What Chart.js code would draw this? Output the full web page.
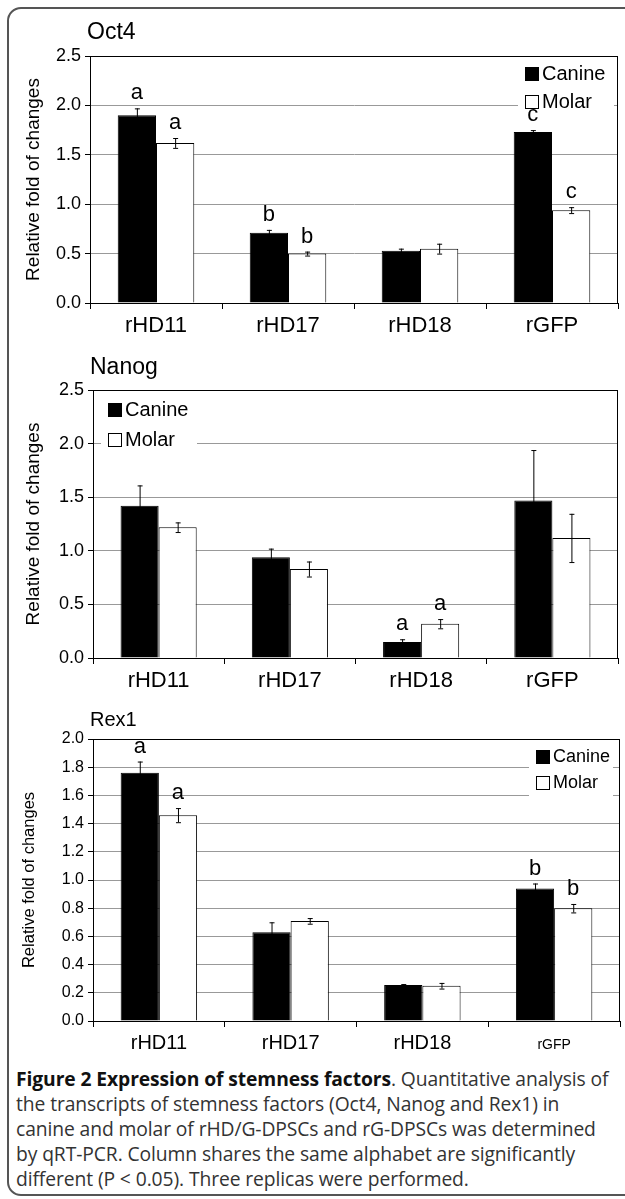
<!DOCTYPE html>
<html>
<head>
<meta charset="utf-8">
<script src="https://cdn.jsdelivr.net/npm/chart.js@4.4.0/dist/chart.umd.min.js"></script>
<style>
  body { margin: 0; background: #fff; width: 625px; height: 1199px; overflow: hidden; position: relative; }
  #frame { position: absolute; left: 7px; top: 7px; width: 660px; height: 1189px; border: 2px solid #555; border-radius: 14px; box-sizing: border-box; }
  canvas { position: absolute; left: 0; }
  #caption { position: absolute; left: 16px; top: 1066px; width: 612px; font-family: "Open Sans"; font-size: 19.3px; line-height: 25px; color: #333; white-space: nowrap; letter-spacing: -0.1px; }
  #caption b { color: #111; }
</style>
</head>
<body>
<div id="frame"></div>
<canvas id="oct4" width="625" height="345" style="top:0"></canvas>
<canvas id="nanog" width="625" height="355" style="top:345px"></canvas>
<canvas id="rex1" width="625" height="355" style="top:700px"></canvas>
<div id="caption">
  <b>Figure 2 Expression of stemness factors</b>. Quantitative analysis of<br>
  the transcripts of stemness factors (Oct4, Nanog and Rex1) in<br>
  canine and molar of rHD/G-DPSCs and rG-DPSCs was determined<br>
  by qRT-PCR. Column shares the same alphabet are significantly<br>
  different (P &lt; 0.05). Three replicas were performed.
</div>
<script>
// data
const categories = ['rHD11', 'rHD17', 'rHD18', 'rGFP'];

const oct4Canine = [1.90, 0.71, 0.53, 1.73];
const oct4CanineErr = [0.07, 0.03, 0.02, 0.02];
const oct4Molar = [1.62, 0.50, 0.55, 0.94];
const oct4MolarErr = [0.05, 0.02, 0.05, 0.03];
const oct4CanineLetters = ['a', 'b', '', 'c'];
const oct4MolarLetters = ['a', 'b', '', 'c'];

const nanogCanine = [1.42, 0.94, 0.15, 1.47];
const nanogCanineErr = [0.19, 0.08, 0.025, 0.47];
const nanogMolar = [1.22, 0.83, 0.32, 1.12];
const nanogMolarErr = [0.045, 0.07, 0.043, 0.225];
const nanogCanineLetters = ['', '', 'a', ''];
const nanogMolarLetters = ['', '', 'a', ''];

const rex1Canine = [1.76, 0.63, 0.255, 0.94];
const rex1CanineErr = [0.08, 0.07, 0.007, 0.035];
const rex1Molar = [1.46, 0.71, 0.25, 0.80];
const rex1MolarErr = [0.05, 0.02, 0.02, 0.03];
const rex1CanineLetters = ['a', '', '', 'b'];
const rex1MolarLetters = ['a', '', '', 'b'];

const FONT = '"Liberation Sans", Arial, sans-serif';

//error bars + letters above bars
const barExtras = {
  id: 'barExtras',
  afterDatasetsDraw(chart) {
    const ctx = chart.ctx;
    const y = chart.scales.y;
    chart.data.datasets.forEach((ds, i) => {
      chart.getDatasetMeta(i).data.forEach((bar, j) => {
        const v = ds.data[j], e = ds.err[j];
        const top = y.getPixelForValue(v + e), bot = y.getPixelForValue(v - e);
        ctx.save();
        ctx.strokeStyle = '#000';
        ctx.lineWidth = 1;
        ctx.beginPath();
        ctx.moveTo(bar.x + 0.5, top); ctx.lineTo(bar.x + 0.5, bot);
        ctx.moveTo(bar.x - 2, top + 0.5); ctx.lineTo(bar.x + 3, top + 0.5);
        ctx.moveTo(bar.x - 2, bot + 0.5); ctx.lineTo(bar.x + 3, bot + 0.5);
        ctx.stroke();
        if (ds.letters[j]) {
          ctx.fillStyle = '#000';
          ctx.font = chart.options.plugins.barExtras.letterSize + 'px ' + FONT;
          ctx.textAlign = 'center';
          ctx.textBaseline = 'bottom';
          ctx.fillText(ds.letters[j], bar.x, top - 4);
        }
        ctx.restore();
      });
    });
  }
};

//legend inside the plot (under the bars and letters), box round plot, title
const panelDeco = {
  id: 'panelDeco',
  beforeDatasetsDraw(chart) {
    const o = chart.options.plugins.panelDeco;
    const a = chart.chartArea;
    const ctx = chart.ctx;
    const lx = o.legendLeft ? a.left + o.legendX : a.right - o.legendX;
    const ly = a.top + o.legendY;
    ctx.save();
    ctx.fillStyle = '#fff';
    ctx.fillRect(lx - 7, ly - 6, o.legendW, 2 * o.legendRow + 4);
    ctx.font = o.legendSize + 'px ' + FONT;
    ctx.textBaseline = 'middle';
    ctx.textAlign = 'left';
    chart.data.datasets.forEach((ds, i) => {
      const yy = ly + i * o.legendRow;
      ctx.fillStyle = ds.backgroundColor;
      ctx.fillRect(lx, yy, 14, 14);
      ctx.strokeStyle = '#000';
      ctx.strokeRect(lx + 0.5, yy + 0.5, 13, 13);
      ctx.fillStyle = '#000';
      ctx.fillText(ds.label, lx + 17, yy + 7);
    });
    ctx.restore();
  },
  afterDraw(chart) {
    const o = chart.options.plugins.panelDeco;
    const a = chart.chartArea;
    const ctx = chart.ctx;
    ctx.save();
    ctx.strokeStyle = '#000';
    ctx.lineWidth = 1;
    ctx.strokeRect(a.left + 0.5, a.top + 0.5, a.right - a.left - 1, a.bottom - a.top);
    ctx.fillStyle = '#000';
    ctx.font = o.titleSize + 'px ' + FONT;
    ctx.textBaseline = 'middle';
    ctx.textAlign = 'left';
    ctx.fillText(o.title, a.left - 3, a.top - o.titleGap);
    ctx.restore();
  }
};

function makePanel(id, p) {
  return new Chart(document.getElementById(id), {
    type: 'bar',
    data: {
      labels: categories,
      datasets: [
        { label: 'Canine', data: p.canine, err: p.canineErr, letters: p.canineLetters,
          backgroundColor: '#000', borderColor: '#000', borderWidth: 1 },
        { label: 'Molar', data: p.molar, err: p.molarErr, letters: p.molarLetters,
          backgroundColor: '#fff', borderColor: '#000', borderWidth: 1 }
      ]
    },
    plugins: [barExtras, panelDeco],
    options: {
      responsive: false,
      animation: false,
      layout: { padding: { top: p.top, right: 625 - p.right, left: 0, bottom: 0 } },
      datasets: { bar: { categoryPercentage: 0.58, barPercentage: 1 } },
      plugins: {
        legend: { display: false },
        tooltip: { enabled: false },
        barExtras: { letterSize: p.letterSize },
        panelDeco: p.deco
      },
      scales: {
        x: {
          grid: { display: true, offset: true, drawOnChartArea: false, color: '#000', tickLength: 6 },
          border: { color: '#000' },
          ticks: { color: '#000', padding: 4, font: p.xFont },
          afterFit(s) { s.height = p.height - p.bottom; }
        },
        y: {
          min: 0, max: p.max,
          ticks: { stepSize: p.step, color: '#000', padding: 4, font: { family: FONT, size: p.tickSize },
                   callback: v => v.toFixed(1) },
          grid: { color: '#999', tickColor: '#000', tickLength: 5 },
          border: { color: '#000' },
          title: { display: true, text: 'Relative fold of changes', color: '#000',
                   font: { family: FONT, size: p.yTitleSize }, padding: { top: p.yTitlePad } },
          afterFit(s) { s.width = p.left; }
        }
      }
    }
  });
}

makePanel('oct4', {
  canine: oct4Canine, canineErr: oct4CanineErr, canineLetters: oct4CanineLetters,
  molar: oct4Molar, molarErr: oct4MolarErr, molarLetters: oct4MolarLetters,
  height: 345, top: 56, bottom: 303, left: 90, right: 618,
  max: 2.5, step: 0.5, tickSize: 18, yTitleSize: 19, yTitlePad: 22, letterSize: 22,
  xFont: { family: FONT, size: 22 },
  deco: { title: 'Oct4', titleSize: 23, titleGap: 23, legendLeft: false, legendX: 93, legendY: 11,
          legendRow: 28, legendSize: 20, legendW: 96 }
});

makePanel('nanog', {
  canine: nanogCanine, canineErr: nanogCanineErr, canineLetters: nanogCanineLetters,
  molar: nanogMolar, molarErr: nanogMolarErr, molarLetters: nanogMolarLetters,
  height: 355, top: 45, bottom: 313, left: 93, right: 618,
  max: 2.5, step: 0.5, tickSize: 18, yTitleSize: 19, yTitlePad: 22, letterSize: 22,
  xFont: { family: FONT, size: 22 },
  deco: { title: 'Nanog', titleSize: 23, titleGap: 22, legendLeft: true, legendX: 15, legendY: 13,
          legendRow: 30, legendSize: 20, legendW: 96 }
});

makePanel('rex1', {
  canine: rex1Canine, canineErr: rex1CanineErr, canineLetters: rex1CanineLetters,
  molar: rex1Molar, molarErr: rex1MolarErr, molarLetters: rex1MolarLetters,
  height: 355, top: 39, bottom: 321, left: 93, right: 620,
  max: 2.0, step: 0.2, tickSize: 16, yTitleSize: 16.5, yTitlePad: 20, letterSize: 22,
  xFont: ctx => ctx.index === 3 ? { family: FONT, size: 14, lineHeight: 2 } : { family: FONT, size: 20 },
  deco: { title: 'Rex1', titleSize: 20, titleGap: 19, legendLeft: false, legendX: 84, legendY: 11,
          legendRow: 26, legendSize: 18, legendW: 84 }
});
</script>
</body>
</html>
